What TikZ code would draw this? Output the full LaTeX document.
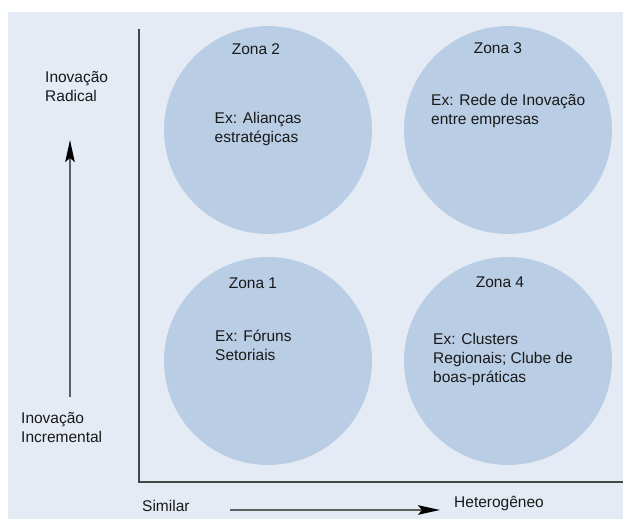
\documentclass[tikz,border=0pt]{standalone}
\usepackage{fontspec}
\setmainfont{Liberation Sans}
\usetikzlibrary{arrows.meta}
\definecolor{bgc}{RGB}{228,235,245}
\definecolor{circc}{RGB}{185,205,228}
\definecolor{axisc}{RGB}{70,70,70}
\definecolor{arrc}{RGB}{95,95,95}
\definecolor{txtc}{RGB}{25,25,25}
\begin{document}
\begin{tikzpicture}[x=1pt,y=-1pt,
  zone/.style={circle,fill=circc,draw=none,minimum size=208pt,inner sep=0pt},
  lbl/.style={text=txtc,inner sep=0pt,font=\fontsize{15.5}{19}\selectfont},
  ml/.style={lbl,align=left,anchor=west},
  axisline/.style={draw=axisc,line width=2.2pt},
  dirarrow/.style={draw=arrc,line width=2pt,-{Stealth[length=22pt,width=9.5pt,inset=4pt,color=black]}}]
\useasboundingbox (0,0) rectangle (623,519);
\fill[bgc] (8,12) rectangle (623,519);
% circles
\node[zone] (z2) at (268,130) {};
\node[zone] (z3) at (508,130) {};
\node[zone] (z1) at (268,361) {};
\node[zone] (z4) at (508,361) {};
% axes
\coordinate (ytop) at (139,29);
\coordinate (orig) at (139,482);
\coordinate (xend) at (623,482);
\draw[axisline] (ytop) -- (orig) -- (xend);
% zone labels
\node[lbl] (t2) at (256,49) {Zona 2};
\node[lbl] (t3) at (498,48) {Zona 3};
\node[lbl] (t1) at (253,283) {Zona 1};
\node[lbl] (t4) at (500,282) {Zona 4};
% examples
\node[ml] (e2) at (214.5,128.5) {Ex: Alianças\\estratégicas};
\node[ml] (e3) at (431,110.5) {Ex: Rede de Inovação\\entre empresas};
\node[ml] (e1) at (215,345.5) {Ex: Fóruns\\Setoriais};
\node[ml] (e4) at (433,359) {Ex: Clusters\\Regionais; Clube de\\boas-práticas};
% axis labels
\node[ml] (rad) at (45,86.5) {Inovação\\Radical};
\node[ml] (inc) at (21,427.5) {Inovação\\Incremental};
\node[ml] (sim) at (142,506) {Similar};
\node[ml] (het) at (454,503) {Heterogêneo};
% direction arrows
\coordinate (va0) at (70,397);
\coordinate (va1) at (70,140);
\coordinate (ha0) at (230,510);
\coordinate (ha1) at (440,510);
\draw[dirarrow] (va0) -- (va1);
\draw[dirarrow] (ha0) -- (ha1);
\end{tikzpicture}
\end{document}
